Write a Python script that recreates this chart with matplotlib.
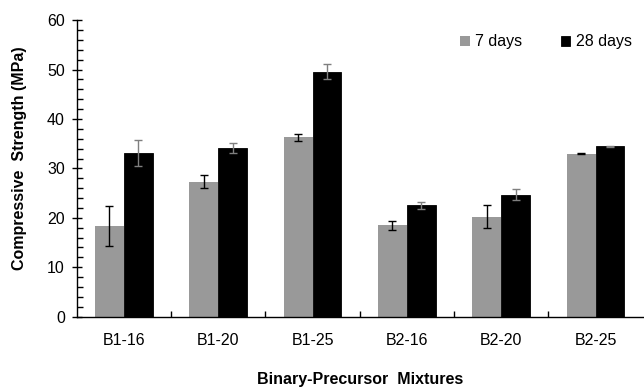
import numpy as np
import matplotlib.pyplot as plt
from matplotlib.ticker import MultipleLocator

mixtures = ["B1-16", "B1-20", "B1-25", "B2-16", "B2-20", "B2-25"]
strength_7d = [18.3, 27.3, 36.3, 18.5, 20.2, 33.0]
err_7d = [4.1, 1.3, 0.7, 0.95, 2.3, 0.1]
strength_28d = [33.1, 34.1, 49.6, 22.5, 24.7, 34.5]
err_28d = [2.6, 1.05, 1.45, 0.75, 1.15, 0.1]

plt.rcParams["font.family"] = ["Liberation Sans", "DejaVu Sans"]
plt.rcParams["font.size"] = 11.5

fig = plt.figure(figsize=(6.44, 3.88), dpi=100)
ax = fig.add_axes([0.119, 0.184, 0.879, 0.764])

x = np.arange(len(mixtures))
w = 0.305

ax.bar(x - w / 2, strength_7d, w, color="#999999", label="7 days",
       yerr=err_7d, error_kw=dict(ecolor="black", elinewidth=1.0, capsize=3, capthick=1.0))
ax.bar(x + w / 2, strength_28d, w, color="black", edgecolor="black", linewidth=0.6,
       label="28 days",
       yerr=err_28d, error_kw=dict(ecolor="#7f7f7f", elinewidth=1.0, capsize=3, capthick=1.0))

ax.set_xlim(-0.5, len(mixtures) - 0.5)
ax.set_ylim(0, 60)
ax.yaxis.set_major_locator(MultipleLocator(10))
ax.yaxis.set_minor_locator(MultipleLocator(2))
ax.tick_params(axis="y", which="major", direction="inout", length=7, width=1, pad=5)
ax.tick_params(axis="y", which="minor", direction="in", length=4, width=1)

ax.set_xticks(x)
ax.set_xticklabels(mixtures)
ax.set_xticks(x[:-1] + 0.5, minor=True)
ax.tick_params(axis="x", which="major", length=0, pad=12)
ax.tick_params(axis="x", which="minor", direction="in", length=4, width=1)

for side in ["top", "right"]:
    ax.spines[side].set_visible(False)
for side in ["left", "bottom"]:
    ax.spines[side].set_linewidth(1.0)

ax.set_ylabel("Compressive  Strength (MPa)", fontweight="bold")
ax.yaxis.set_label_coords(-0.088, 0.533)
ax.set_xlabel("Binary-Precursor  Mixtures", fontweight="bold")
ax.xaxis.set_label_coords(0.5, -0.186)

fig.legend(loc="center right", bbox_to_anchor=(0.981, 0.8925),
           bbox_transform=fig.transFigure, ncol=2, frameon=False,
           borderaxespad=0, borderpad=0,
           handlelength=0.6, handleheight=0.6, handletextpad=0.35, columnspacing=2.4)

fig.savefig("out.png", dpi=100)
